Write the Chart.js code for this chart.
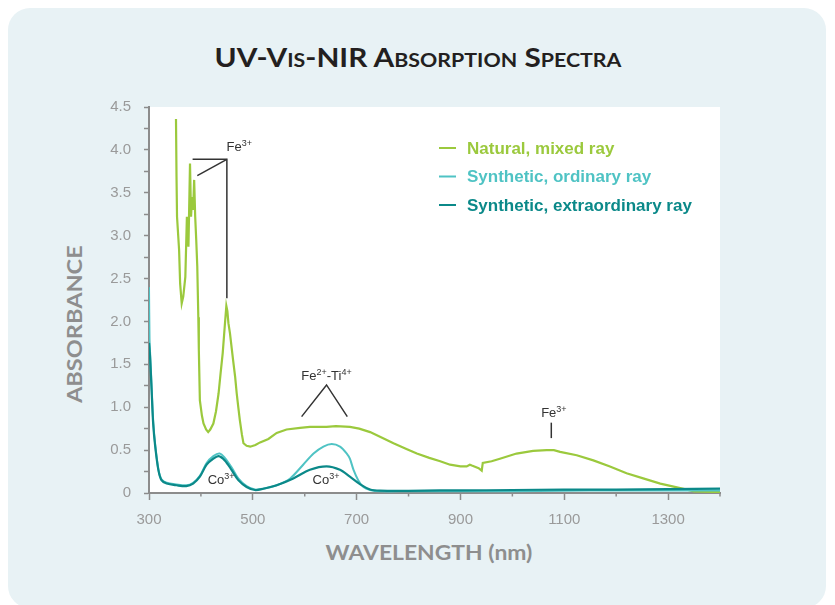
<!DOCTYPE html>
<html>
<head>
<meta charset="utf-8">
<script src="https://cdn.jsdelivr.net/npm/chart.js@4.4.1/dist/chart.umd.min.js"></script>
<style>
html,body{margin:0;padding:0;background:#fff;}
#wrap{position:relative;width:835px;height:605px;overflow:hidden;}
#panel{position:absolute;left:8px;top:8px;width:818px;height:600px;background:#e8f2f5;border-radius:22px;}
.fit{position:absolute;text-align:center;white-space:nowrap;font-family:Lato,'Open Sans',sans-serif;}
.fit span{display:inline-block;transform-origin:center center;}
#title{left:0;top:44px;width:835px;font-size:26.5px;line-height:26.5px;font-weight:bold;font-variant:small-caps;color:#231f20;}
#ytitle{left:-27.5px;top:313.5px;width:200px;font-size:21px;line-height:21px;font-weight:bold;color:#8e8e8e;transform:rotate(-90deg);}
#xtitle{left:329px;top:540.5px;width:200px;font-size:21px;line-height:21px;font-weight:bold;color:#8e8e8e;}
canvas{position:absolute;left:0;top:0;}
</style>
</head>
<body>
<div id="wrap">
  <div id="panel"></div>
  <div id="title" class="fit"><span>UV-Vis-NIR Absorption Spectra</span></div>
  <div id="ytitle" class="fit"><span>ABSORBANCE</span></div>
  <div id="xtitle" class="fit"><span>WAVELENGTH (nm)</span></div>
  <canvas id="chart" width="835" height="605"></canvas>
</div>
<script>
// values (wavelength in nm, absorbance)
const natWl  = [352,353,354,358,360,363,366,370,373,376,379,381,383,385,387,389,391,393,395,396,398,402,405,410,414,418,424,429,434,438,442,446,449,451,453,456,462,466,469,472,475,479,482,488,495,505,514,530,546,565,591,610,642,660,687,705,726,750,771,797,816,840,861,880,900,912,918,922,935,941,943,960,976,1008,1040,1066,1080,1092,1124,1156,1188,1220,1252,1285,1317,1336,1350,1400];
const natAbs = [4.36,3.69,3.22,2.83,2.44,2.21,2.29,2.52,3.22,2.87,3.84,3.22,3.45,3.30,3.65,3.22,2.95,2.64,2.05,1.67,1.08,0.90,0.81,0.74,0.71,0.74,0.81,0.95,1.16,1.40,1.63,1.95,2.18,2.12,1.98,1.86,1.55,1.35,1.16,1.00,0.85,0.68,0.58,0.55,0.54,0.56,0.59,0.63,0.70,0.74,0.76,0.77,0.77,0.78,0.77,0.75,0.71,0.64,0.58,0.51,0.46,0.41,0.37,0.33,0.31,0.31,0.33,0.32,0.29,0.26,0.35,0.37,0.40,0.46,0.49,0.50,0.50,0.48,0.44,0.38,0.31,0.23,0.17,0.11,0.066,0.04,0.02,0.01];

const ordWl  = [300,301,302,305,308,312,318,324,334,353,372,385,398,411,424,436,446,459,472,488,504,520,546,572,597,617,636,652,668,681,687,694,703,713,726,745,800,900,1000,1100,1200,1300,1400];
const ordAbs = [2.40,1.80,1.65,1.25,0.85,0.56,0.28,0.16,0.12,0.10,0.09,0.12,0.20,0.35,0.43,0.46,0.41,0.30,0.17,0.08,0.04,0.05,0.09,0.17,0.33,0.46,0.54,0.57,0.54,0.46,0.40,0.27,0.15,0.07,0.035,0.02,0.02,0.02,0.02,0.025,0.03,0.03,0.03];

const extWl  = [300,302,305,308,312,318,324,334,353,372,385,398,411,424,434,446,459,472,488,504,520,546,578,610,642,668,687,707,726,745,800,860,900,1000,1100,1200,1300,1400];
const extAbs = [1.75,1.59,1.20,0.81,0.54,0.27,0.15,0.11,0.09,0.08,0.11,0.19,0.33,0.40,0.43,0.38,0.27,0.15,0.07,0.035,0.05,0.09,0.17,0.27,0.31,0.27,0.19,0.10,0.04,0.027,0.025,0.03,0.03,0.035,0.04,0.04,0.045,0.05];

const seriesNames = ['Natural, mixed ray','Synthetic, ordinary ray','Synthetic, extraordinary ray'];
const seriesColors = ['#9bc93d','#4fc3c4','#0b8989'];

// annotation brackets and labels, in data units
const annoLines = [
  [[384,3.89],[450,3.89],[450,2.27]],
  [[450,3.89],[393,3.70]],
  [[594,0.89],[642,1.26],[682,0.89]],
  [[1075,0.82],[1075,0.64]]
];
const annoLabels = [
  {x:474, y:4.03, parts:[['Fe',0],['3+',1]]},
  {x:642, y:1.36, parts:[['Fe',0],['2+',1],['-Ti',0],['4+',1]]},
  {x:1080, y:0.93, parts:[['Fe',0],['3+',1]]},
  {x:439, y:0.15, parts:[['Co',0],['3+',1]]},
  {x:641, y:0.15, parts:[['Co',0],['3+',1]]}
];

// squeeze the heading texts to the widths they have in the picture
function fit(id, w){
  const sp = document.getElementById(id).firstElementChild;
  sp.style.transform = 'scaleX(' + (w / sp.offsetWidth) + ')';
}
fit('title', 407);
fit('ytitle', 158);
fit('xtitle', 207);

const pts = (xs, ys) => xs.map((x,i)=>({x:x, y:ys[i]}));

const whiteArea = {
  id:'whiteArea',
  beforeDraw(chart){
    const {ctx, chartArea:a} = chart;
    ctx.save();
    ctx.fillStyle = '#fff';
    ctx.fillRect(a.left, a.top, a.right-a.left, a.bottom-a.top);
    ctx.restore();
  }
};

// short ticks at the unlabelled hundreds
const minorTicks = {
  id:'minorTicks',
  afterDraw(chart){
    const ctx = chart.ctx, xs = chart.scales.x;
    ctx.save();
    ctx.strokeStyle = axisGray;
    ctx.lineWidth = 1.5;
    xs.ticks.forEach(t=>{
      if ((t.value-300)%200 === 0) return;
      const px = xs.getPixelForValue(t.value);
      ctx.beginPath(); ctx.moveTo(px, xs.top); ctx.lineTo(px, xs.top+3.5); ctx.stroke();
    });
    ctx.restore();
  }
};

const annotations = {
  id:'annotations',
  afterDatasetsDraw(chart){
    const ctx = chart.ctx, xs = chart.scales.x, ys = chart.scales.y;
    ctx.save();
    ctx.strokeStyle = '#333';
    ctx.lineWidth = 1.5;
    annoLines.forEach(l=>{
      ctx.beginPath();
      l.forEach((p,i)=>{
        const px = xs.getPixelForValue(p[0]), py = ys.getPixelForValue(p[1]);
        i ? ctx.lineTo(px,py) : ctx.moveTo(px,py);
      });
      ctx.stroke();
    });
    ctx.fillStyle = '#333';
    ctx.textBaseline = 'middle';
    const big = "13px 'Liberation Sans'", small = "9px 'Liberation Sans'";
    annoLabels.forEach(a=>{
      let w = 0;
      a.parts.forEach(p=>{ ctx.font = p[1]?small:big; w += ctx.measureText(p[0]).width; });
      let px = xs.getPixelForValue(a.x) - w/2;
      const py = ys.getPixelForValue(a.y);
      a.parts.forEach(p=>{
        ctx.font = p[1]?small:big;
        ctx.fillText(p[0], px, p[1] ? py-4 : py);
        px += ctx.measureText(p[0]).width;
      });
    });
    ctx.restore();
  }
};

const legendBox = {
  id:'legendBox',
  afterDraw(chart){
    const ctx = chart.ctx;
    ctx.save();
    ctx.font = "bold 17px 'Liberation Sans'";
    ctx.textBaseline = 'middle';
    seriesNames.forEach((name,i)=>{
      const y = 148 + i*28.5;
      ctx.strokeStyle = seriesColors[i];
      ctx.lineWidth = 2;
      ctx.beginPath(); ctx.moveTo(439,y); ctx.lineTo(456,y); ctx.stroke();
      ctx.fillStyle = seriesColors[i];
      ctx.fillText(name, 467, y+1);
    });
    ctx.restore();
  }
};

const axisGray = '#8c8c8c';
const tickFont = {family:"'Liberation Sans'", size:15};

new Chart(document.getElementById('chart'), {
  type:'line',
  data:{
    datasets:[
      {label:seriesNames[0], data:pts(natWl,natAbs), borderColor:seriesColors[0], borderWidth:2.2, pointRadius:0, order:2},
      {label:seriesNames[1], data:pts(ordWl,ordAbs), borderColor:seriesColors[1], borderWidth:2, pointRadius:0, tension:0.3, order:1},
      {label:seriesNames[2], data:pts(extWl,extAbs), borderColor:seriesColors[2], borderWidth:2.2, pointRadius:0, tension:0.3, order:0}
    ]
  },
  options:{
    responsive:false,
    animation:false,
    layout:{padding:{left:0, top:107, right:115, bottom:0}},
    plugins:{legend:{display:false}, tooltip:{enabled:false}},
    scales:{
      x:{
        type:'linear', min:300, max:1400,
        afterFit:s=>{ s.height = 112; },
        ticks:{stepSize:100, autoSkip:false, maxRotation:0, color:'#9a9a9a', font:tickFont, padding:11,
          callback:v=> (v-300)%200===0 && v<1400 ? String(v) : ''},
        grid:{drawOnChartArea:false, tickLength:7, color:axisGray, tickWidth:1.5,
          tickColor:c=> c.tick && (c.tick.value-300)%200!==0 ? 'rgba(0,0,0,0)' : axisGray},
        border:{color:axisGray, width:2}
      },
      y:{
        min:0, max:4.5,
        afterFit:s=>{ s.width = 149; },
        ticks:{stepSize:0.25, autoSkip:false, color:'#9a9a9a', font:tickFont, padding:13,
          callback:v=> Math.abs(v*2-Math.round(v*2))<1e-6 ? (v===0 ? '0' : v.toFixed(1)) : ''},
        grid:{drawOnChartArea:false, tickLength:5, color:axisGray, tickWidth:1.5},
        border:{color:axisGray, width:2}
      }
    }
  },
  plugins:[whiteArea, minorTicks, annotations, legendBox]
});
</script>
</body>
</html>
